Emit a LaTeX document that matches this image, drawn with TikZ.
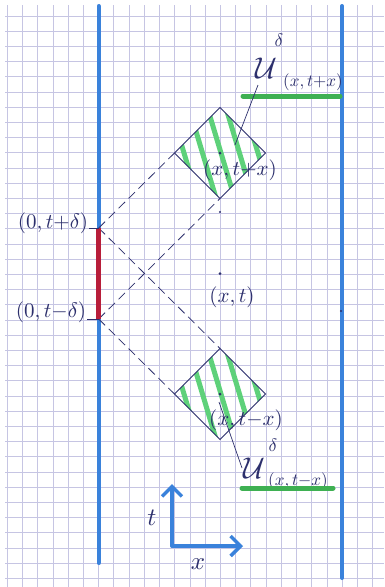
\documentclass[tikz,border=0pt]{standalone}
\usetikzlibrary{shapes.geometric,arrows.meta,calc}
\definecolor{gridc}{HTML}{C6C5E3}
\definecolor{bluepen}{HTML}{3A82DB}
\definecolor{greenpen}{HTML}{5ED17A}
\definecolor{greenline}{HTML}{3EB052}
\definecolor{redpen}{HTML}{B81E3A}
\definecolor{ink}{HTML}{2C2F6C}
\newcommand{\mysz}[2]{\scalebox{#1}{#2}}
\tikzset{
  gridline/.style={gridc, line width=0.7pt},
  wall/.style={bluepen, line width=4pt, line cap=round},
  hatch/.style={greenpen, line width=5pt},
  dashline/.style={ink, line width=0.75pt, dash pattern=on 9pt off 5pt},
  diamondbox/.style={diamond, minimum width=91pt, minimum height=91pt, inner sep=0pt, outer sep=0pt},
  edgeline/.style={ink, line width=0.9pt},
  inkdot/.style={circle, fill=ink, inner sep=0pt, minimum size=3pt},
  lbl/.style={text=ink, inner sep=0pt},
  underl/.style={greenline, line width=5pt, line cap=round},
  axis/.style={bluepen, line width=3.5pt, line cap=round, line join=round, -{Straight Barb[length=10pt,width=20pt]}},
}
\begin{document}
\begin{tikzpicture}[x=1pt,y=-1pt]
\useasboundingbox (0,0) rectangle (384,587);
\fill[white] (0,0) rectangle (384,587);
% graph paper
\foreach \i in {0,...,24} \draw[gridline] (7.3+15.22*\i,5) -- (7.3+15.22*\i,587);
\foreach \j in {0,...,37} \draw[gridline] (5,16+15.2*\j) -- (384,16+15.2*\j);
% boundary lines
\draw[wall] (98.7,6) -- (98.7,563);
\draw[wall] (342,6) -- (342,578);
% key points
\coordinate (A) at (98.7,228);
\coordinate (B) at (98.7,319);
\node[inkdot] (P) at (220,273.5) {};
\node[inkdot, minimum size=2.4pt] (Q) at (220,212) {};
\node[inkdot, minimum size=2.4pt] (R) at (341,311) {};
\node[diamondbox] (D1) at (220,153) {};
\node[diamondbox] (D2) at (220,394) {};
% hatching
\foreach \D in {D1,D2}{
  \begin{scope}
    \clip (\D.north) -- (\D.east) -- (\D.south) -- (\D.west) -- cycle;
    \foreach \k in {-2,...,2}
      \draw[hatch] ($(\D)+(18.5*\k+1-18,-60)$) -- ++(36,120);
  \end{scope}
  \draw[edgeline] (\D.north) -- (\D.east) -- (\D.south) -- (\D.west) -- cycle;
}
\node[inkdot] (C1) at (D1) {};
\node[inkdot] (C2) at (D2) {};
% light-cone dashed lines
\draw[dashline] (A) -- (D1.west);
\draw[dashline] (B) -- (D1.south);
\draw[dashline] (A) -- (D2.north);
\draw[dashline] (B) -- (D2.west);
% red segment
\draw[redpen, line width=5pt] (A) -- (B);
% labels
\node[lbl] (LA) at (53,223) {\mysz{2.1}{$(0,t{+}\delta)$}};
\node[lbl] (LB) at (51,312) {\mysz{2.1}{$(0,t{-}\delta)$}};
\draw[ink, line width=0.9pt] (LA.east) ++(1,5) -- (A);
\draw[ink, line width=0.9pt] (LB.east) ++(1,7) -- (B);
\node[lbl] (LP) at (232,297) {\mysz{2.1}{$(x,t)$}};
\node[lbl] (L1) at (240,170) {\mysz{2.1}{$(x,t{+}x)$}};
\node[lbl] (L2) at (246,420) {\mysz{2.1}{$(x,t{-}x)$}};
% U labels
\node[lbl] (U1) at (266,68) {\mysz{3.0}{$\mathcal{U}$}};
\node[lbl] (d1) at (279,40) {\mysz{1.8}{$\delta$}};
\node[lbl] (s1) at (313,82) {\mysz{1.7}{$(x,t{+}x)$}};
\draw[underl] (243,96) -- (340,96);
\coordinate (u1) at (258,85);
\coordinate (e1) at (235,145);
\draw[ink, line width=0.7pt] (u1) -- (e1);
\node[lbl] (U2) at (254,468) {\mysz{3.0}{$\mathcal{U}$}};
\node[lbl] (d2) at (273,445) {\mysz{1.8}{$\delta$}};
\node[lbl] (s2) at (298,481) {\mysz{1.7}{$(x,t{-}x)$}};
\draw[underl] (242,488) -- (333,488);
\coordinate (u2) at (242,468);
\coordinate (e2) at (219,402);
\draw[ink, line width=0.7pt] (u2) -- (e2);
% axes
\coordinate (O) at (172,546);
\coordinate (Tt) at (172,484);
\coordinate (Xx) at (243,546);
\draw[axis] (O) -- (Tt);
\draw[axis] (O) -- (Xx);
\node[lbl] (tl) at (152,518) {\mysz{2.5}{$t$}};
\node[lbl] (xl) at (198,564) {\mysz{2.5}{$x$}};
\end{tikzpicture}
\end{document}
